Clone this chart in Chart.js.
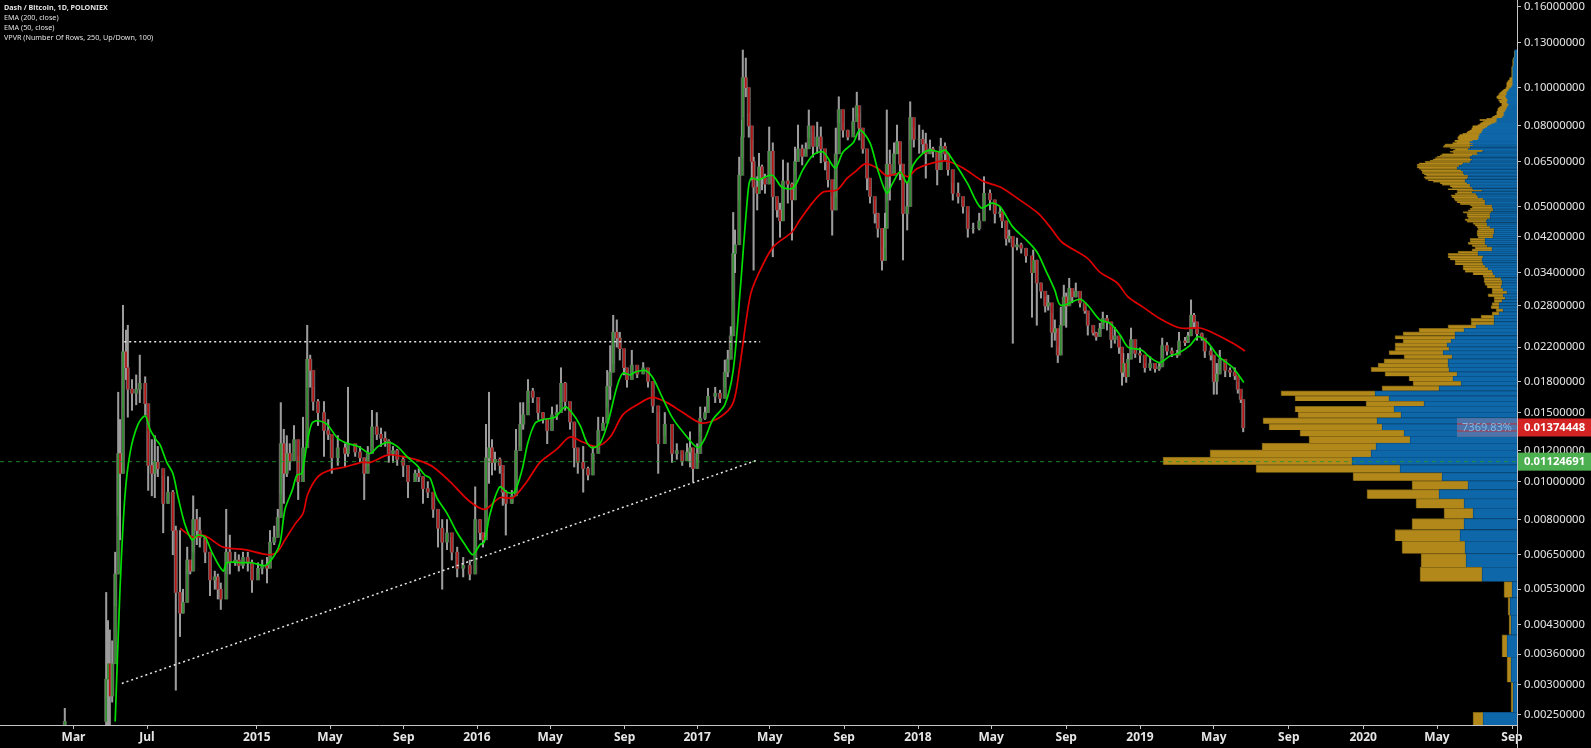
<!DOCTYPE html>
<html><head><meta charset="utf-8">
<style>html,body{margin:0;padding:0;background:#000}canvas{display:block}</style>
<script src="https://cdn.jsdelivr.net/npm/chart.js@4/dist/chart.umd.js"></script>
</head><body><canvas id="c" width="1591" height="748"></canvas>
<script>
const bars=[108,177,180,183,187,192,197,200,205,210,213,220,227,233,242,247,253,258,263,272,280,288,293,300,305,312,317,322,328,333,342,350,358,363,368,377,383,392,398,405,413,420,430,437,445,450,457,463,468,473,478,483,490,497,505,512,517,522,530,540,547,553,563,575,580,592,600,607,613,620,628,635,642,648,655,662,672,680,692,698,705,713,722,730,737,745,753,762,772,783,792,800,805,810,815,820,825,833,838,843,853,860,867,872,880,888,897,905,912,920,928,935,942,950,957,963,972,980,988,997,1005,1012,1017,1022,1028,1033,1040,1045,1053,1062,1072,1080,1088,1097,1108,1120,1128,1137,1145,1150,1155,1162,1167,1175,1180,1192,1200,1208,1213,1218,1222,1225,1232,1237,1238,1243,1248,1253,1256,1262,1265,1270,1275,1282,1288,1295,1300,1305,1313,1320,1325,1330,1337,1343,1348,1355,1362,1368,1375,1380,1387,1393,1398,1405,1413,1422,1428,1432,1438,1445,1450,1458,1463,1470,1475,1478,1483,1490,1495,1500,1505,1512,1517,1523,1532,1538,1543,1550,1555,1562,1568,1575,1580,1588,1597,1605,1613,1622,1632,1640,1650,1658,1667,1670,1677,1682,1688,1695,1702,1710,1720,1722,1728,1735,1742,1747,1753,1758,1763,1768,1773,1777,1782,1787,1793,1800,1808,1813,1822,1827,1833,1838,1845,1852,1858,1865,1870,1872,1877,1880,1885,1892,1900,1908,1917,1925,1932,1937,1945,1953,1962,1965,1975,1980,1985,1990,1995,2003,2008,2018,2023,2028,2033,2042,2050,2058,2063,2068,2072];
const high=[.0026,.0052,.0044,.00416,.0039,.0066,.0169,.0144,.0281,.0243,.0250,.0182,.0187,.0210,.0185,.0134,.0128,.0131,.0123,.0103,.0103,.0095,.0077,.0075,.0053,.0068,.0061,.0092,.0085,.0081,.0072,.0063,.0059,.0058,.0055,.0085,.0073,.0066,.0065,.0066,.0066,.0063,.0062,.0063,.0064,.0075,.0077,.0085,.0159,.0136,.0131,.0125,.0139,.0116,.0146,.0250,.0210,.0174,.0162,.0160,.0144,.0128,.0131,.0125,.0174,.0123,.0123,.0115,.0123,.0152,.0150,.0137,.0134,.0128,.0123,.0121,.0116,.0107,.0107,.0108,.0103,.0100,.0091,.0085,.0080,.0080,.0072,.0068,.0064,.0063,.0097,.0080,.0073,.0140,.0169,.0128,.0119,.0115,.0105,.0095,.0095,.0136,.0159,.0159,.0182,.0173,.0159,.0150,.0144,.0155,.0157,.0195,.0179,.0152,.0141,.0121,.0123,.0109,.0123,.0146,.0146,.0192,.0222,.0265,.0258,.0240,.0216,.0192,.0216,.0192,.0201,.0192,.0165,.0150,.0150,.0128,.0125,.0117,.0125,.0134,.0121,.0125,.0155,.0155,.0173,.0174,.0171,.0204,.0216,.0248,.0483,.0436,.0667,.0828,.1245,.1188,.0860,.0737,.0667,.0595,.0682,.0637,.0604,.0795,.0725,.0519,.0510,.0656,.0645,.0574,.0707,.0804,.0716,.0725,.0878,.0770,.0818,.0795,.0682,.0612,.0530,.0790,.0948,.0814,.0781,.0888,.0974,.0860,.0737,.0645,.0560,.0519,.0481,.0394,.0481,.0878,.0695,.0725,.0804,.0695,.0574,.0574,.0921,.0790,.0804,.0781,.0767,.0737,.0707,.0682,.0745,.0725,.0656,.0574,.0574,.0519,.0485,.0454,.0481,.0595,.0551,.0510,.0499,.0481,.0436,.0436,.0411,.0416,.0404,.0392,.0360,.0388,.0366,.0320,.0295,.0298,.0268,.0258,.0220,.0278,.0316,.0302,.0329,.0304,.0320,.0293,.0278,.0268,.0243,.0240,.0253,.0270,.0265,.0247,.0247,.0229,.0212,.0212,.0195,.0212,.0246,.0220,.0219,.0200,.0208,.0200,.0200,.0232,.0226,.0219,.0216,.0240,.0233,.0240,.0290,.0268,.0246,.0239,.0229,.0220,.0208,.0200,.0216,.0200,.0195,.0195,.0179,.0165,.0159];
const low=[.0023,.0023,.0023,.0023,.0027,.0048,.0082,.0071,.0155,.0182,.0146,.0152,.0157,.0159,.0148,.0095,.0092,.0091,.0103,.0074,.0088,.0065,.0029,.0040,.0046,.0058,.0058,.0066,.0069,.0068,.0062,.0051,.0053,.0050,.0047,.0058,.0058,.0061,.0059,.0060,.0059,.0052,.0058,.0058,.0055,.0064,.0069,.0075,.0093,.0088,.0103,.0107,.0119,.0090,.0101,.0174,.0174,.0152,.0139,.0116,.0128,.0105,.0110,.0109,.0116,.0116,.0112,.0090,.0110,.0123,.0128,.0123,.0123,.0112,.0112,.0110,.0103,.0091,.0101,.0100,.0088,.0091,.0081,.0068,.0053,.0067,.0063,.0057,.0057,.0056,.0067,.0071,.0068,.0091,.0099,.0104,.0107,.0105,.0087,.0073,.0088,.0097,.0123,.0136,.0159,.0159,.0144,.0141,.0125,.0141,.0144,.0159,.0152,.0136,.0109,.0105,.0094,.0101,.0112,.0121,.0136,.0155,.0162,.0200,.0220,.0204,.0187,.0174,.0187,.0184,.0189,.0174,.0150,.0105,.0131,.0112,.0114,.0110,.0114,.0109,.0100,.0112,.0134,.0144,.0155,.0159,.0159,.0174,.0185,.0216,.0290,.0340,.0519,.0667,.0842,.0948,.0749,.0584,.0345,.0490,.0584,.0551,.0540,.0604,.0373,.0470,.0418,.0490,.0510,.0411,.0604,.0656,.0637,.0682,.0749,.0667,.0682,.0645,.0619,.0560,.0423,.0530,.0814,.0749,.0737,.0767,.0842,.0737,.0682,.0551,.0510,.0454,.0418,.0345,.0394,.0519,.0519,.0645,.0682,.0584,.0366,.0436,.0737,.0707,.0682,.0682,.0590,.0682,.0667,.0567,.0667,.0656,.0600,.0519,.0510,.0481,.0418,.0428,.0436,.0499,.0490,.0454,.0470,.0442,.0399,.0406,.0225,.0388,.0381,.0361,.0262,.0345,.0250,.0293,.0270,.0273,.0220,.0229,.0201,.0212,.0278,.0247,.0290,.0285,.0295,.0278,.0268,.0236,.0236,.0229,.0239,.0250,.0243,.0219,.0225,.0212,.0176,.0185,.0179,.0195,.0212,.0207,.0201,.0190,.0192,.0190,.0192,.0207,.0210,.0208,.0207,.0212,.0222,.0226,.0247,.0246,.0229,.0229,.0207,.0204,.0167,.0167,.0192,.0185,.0185,.0182,.0168,.0159,.0134];
const close=[.0024,.0031,.0034,.0028,.0034,.0058,.0118,.0105,.0214,.0195,.0172,.0168,.0172,.0178,.0158,.0110,.0105,.0112,.0108,.0088,.0094,.0075,.0052,.0046,.0049,.0063,.0059,.0080,.0075,.0072,.0066,.0056,.0057,.0053,.0050,.0066,.0062,.0063,.0061,.0064,.0062,.0056,.0060,.0061,.0060,.0070,.0072,.0081,.0125,.0105,.0118,.0113,.0128,.0100,.0122,.0205,.0192,.0160,.0150,.0135,.0132,.0115,.0122,.0118,.0125,.0119,.0115,.0105,.0118,.0138,.0132,.0129,.0127,.0118,.0120,.0114,.0110,.0100,.0105,.0103,.0096,.0094,.0085,.0076,.0070,.0074,.0066,.0060,.0061,.0058,.0080,.0074,.0071,.0115,.0122,.0112,.0114,.0110,.0094,.0088,.0092,.0120,.0140,.0148,.0170,.0164,.0150,.0145,.0135,.0148,.0150,.0178,.0160,.0142,.0122,.0112,.0108,.0104,.0118,.0135,.0141,.0175,.0190,.0240,.0232,.0218,.0195,.0182,.0198,.0188,.0195,.0180,.0156,.0125,.0140,.0118,.0120,.0113,.0119,.0122,.0108,.0118,.0145,.0150,.0165,.0168,.0163,.0190,.0205,.0235,.0380,.0400,.0600,.0750,.1060,.1000,.0800,.0650,.0560,.0540,.0630,.0590,.0570,.0690,.0530,.0490,.0460,.0580,.0570,.0520,.0650,.0700,.0670,.0700,.0800,.0710,.0750,.0700,.0650,.0585,.0490,.0680,.0880,.0780,.0750,.0820,.0900,.0790,.0700,.0590,.0530,.0480,.0440,.0365,.0440,.0640,.0600,.0680,.0730,.0640,.0480,.0500,.0840,.0740,.0740,.0720,.0680,.0700,.0690,.0620,.0710,.0680,.0620,.0540,.0530,.0500,.0440,.0440,.0460,.0540,.0520,.0480,.0485,.0460,.0415,.0420,.0395,.0400,.0392,.0375,.0340,.0365,.0320,.0305,.0280,.0285,.0240,.0245,.0210,.0250,.0295,.0280,.0310,.0295,.0305,.0285,.0272,.0250,.0239,.0234,.0245,.0260,.0255,.0230,.0235,.0220,.0190,.0200,.0185,.0205,.0230,.0212,.0210,.0195,.0200,.0194,.0196,.0222,.0215,.0212,.0210,.0228,.0226,.0235,.0265,.0255,.0238,.0232,.0215,.0210,.0180,.0188,.0205,.0192,.0190,.0186,.0172,.0162,.01374];

const ema50Bars=[192,200,208,217,230,242,250,260,267,278,288,297,308,320,330,342,353,372,378,403,420,442,458,467,475,487,495,503,512,520,530,545,563,580,597,617,630,647,662,678,695,708,717,728,745,762,775,788,800,807,817,833,845,857,870,880,892,905,925,942,953,967,978,988,1000,1013,1028,1038,1050,1058,1075,1088,1103,1120,1138,1163,1175,1188,1208,1222,1233,1247,1252,1263,1287,1303,1322,1338,1355,1372,1392,1405,1422,1433,1450,1463,1478,1488,1500,1512,1522,1538,1550,1567,1575,1588,1612,1635,1653,1667,1688,1708,1728,1745,1758,1768,1800,1813,1833,1850,1867,1880,1903,1917,1933,1950,1963,1983,1997,2013,2030,2055,2073];
const ema50=[.0024,.0053,.0091,.0119,.0140,.0147,.0136,.0128,.0124,.0112,.0105,.0091,.0078,.0071,.0073,.0072,.0066,.0059,.0062,.0062,.0062,.0061,.0065,.0070,.0085,.0095,.0104,.0105,.0126,.0141,.0143,.0140,.0129,.0125,.0123,.0118,.0123,.0126,.0123,.0116,.0110,.0104,.0102,.0091,.0083,.0074,.0069,.0065,.0069,.0070,.0083,.0097,.0094,.0094,.0107,.0126,.0141,.0144,.0146,.0155,.0150,.0139,.0126,.0122,.0125,.0141,.0174,.0189,.0187,.0190,.0192,.0184,.0165,.0146,.0134,.0122,.0129,.0144,.0157,.0192,.0298,.0551,.0590,.0584,.0600,.0560,.0557,.0619,.0675,.0687,.0626,.0687,.0725,.0781,.0725,.0619,.0541,.0574,.0612,.0574,.0637,.0682,.0695,.0687,.0695,.0656,.0574,.0496,.0510,.0499,.0444,.0415,.0384,.0339,.0307,.0281,.0291,.0281,.0258,.0253,.0236,.0220,.0216,.0207,.0201,.0209,.0212,.0222,.0234,.0226,.0209,.0195,.0179];
const ema200Bars=[300,322,337,347,372,408,447,462,475,492,505,513,530,550,575,603,617,647,670,700,722,750,783,808,833,855,878,900,928,950,972,995,1017,1038,1062,1087,1112,1138,1170,1200,1222,1233,1250,1262,1288,1320,1333,1355,1372,1395,1412,1425,1442,1462,1478,1500,1513,1528,1555,1578,1605,1638,1667,1700,1730,1750,1770,1812,1833,1862,1880,1905,1933,1967,2000,2022,2055,2075];
const ema200=[.0076,.0072,.0073,.0072,.0068,.0067,.0065,.0066,.0071,.0078,.0083,.0093,.0103,.0107,.0109,.0112,.0112,.0117,.0116,.0113,.0109,.0100,.0089,.0085,.0091,.0091,.0100,.0112,.0121,.0130,.0126,.0123,.0130,.0148,.0157,.0164,.0159,.0150,.0141,.0146,.0159,.0197,.0295,.0332,.0394,.0431,.0462,.0513,.0544,.0551,.0590,.0612,.0641,.0626,.0598,.0608,.0595,.0623,.0645,.0652,.0626,.0580,.0560,.0519,.0481,.0444,.0406,.0370,.0341,.0320,.0295,.0278,.0260,.0246,.0246,.0239,.0225,.0215];

const vpFloorCentre=.0023, vpStep=.0005;
const vpBlue=[34,4,6,10,6,7,5,35,51,52,57,53,44,53,78,49,75,117,165,146,141,107,113,135,140,116,123,93,128,142,78,56,64,60,68,69,69,65,74,68,70,66,62,62,53,41,23,23,23,18,14,18,18,15,12,14,10,14,16,15,15,16,22,24,25,29,32,34,35,35,34,39,39,25,25,30,32,32,32,24,24,23,23,23,27,30,30,31,30,27,27,27,26,24,24,25,25,32,32,32,34,39,40,41,45,35,44,45,47,47,50,52,52,50,49,49,53,54,54,56,60,60,58,55,54,47,46,45,47,47,45,39,40,35,34,49,47,47,44,47,44,47,44,39,38,38,38,37,37,35,35,34,34,32,30,29,27,25,22,20,20,20,20,15,14,13,13,12,13,12,11,11,10,10,9,9,8,8,9,10,9,9,9,10,10,11,11,10,10,10,10,9,8,8,7,6,5,5,4,4,4,4,4,4,4,4,4,4,4,4,4,4,4,4,4,4,4,4,4,4,4,4,3,3,3,3,3,3,3,3,3,3,3,3,2,2,2,2,2,2,2,2,2,2,2];
const vpGold=[10,2,4,5,2,2,8,62,45,63,65,52,29,48,72,56,89,144,189,161,114,101,104,113,114,103,99,58,94,94,57,48,44,72,78,70,64,48,54,54,52,48,60,52,45,28,23,23,13,7,7,8,7,8,11,15,15,11,14,17,18,17,12,20,27,25,22,28,27,32,35,30,20,20,17,15,17,15,15,15,16,17,17,16,13,12,14,19,22,22,23,23,28,25,23,20,22,25,28,30,29,26,26,21,15,25,25,20,20,28,27,32,37,42,44,42,40,41,41,40,38,40,42,45,44,45,41,39,35,33,32,36,24,32,30,13,20,27,29,25,20,13,18,19,21,21,20,20,17,15,14,13,11,13,14,15,12,12,14,14,12,17,10,10,10,9,7,8,7,8,8,8,9,8,8,6,7,7,6,7,8,9,6,9,10,9,8,7,8,7,6,6,6,5,4,5,5,5,6,6,6,6,5,5,4,3,3,3,1,1,1,1,1,1,1,1,1,1,1,1,1,1,1,1,1,1,1,1,1,1,1,1,.5,.5,.5,.5,.5,.5,.5,.5,.5,.5,.5];
const vpRowPrices=vpBlue.map((_,i)=>vpFloorCentre+i*vpStep);

const xTickBars=[122.5,245,428,550,673,795,917,1041,1162,1283,1407,1530,1652,1777,1900,2023,2148,2272,2395,2520];
const xTickLabels=['Mar','Jul','2015','May','Sep','2016','May','Sep','2017','May','Sep','2018','May','Sep','2019','May','Sep','2020','May','Sep'];
const yTicks=[.16,.13,.10,.08,.065,.05,.042,.034,.028,.022,.018,.015,.012,.01,.008,.0065,.0053,.0043,.0036,.003,.0025];
const lastPrice=.01374448, pocPrice=.01124691, pctText='7369.83%';
const resistance=[[207,.0227],[1267,.0227]];
const support=[[203,.00302],[1263,.01136]];
const pocLine=[[0,pocPrice],[2528,pocPrice]];
const legendLines=['Dash / Bitcoin, 1D, POLONIEX','EMA (200, close)','EMA (50, close)','VPVR (Number Of Rows, 250, Up/Down, 100)'];

const LOG_OFFSET=.0001;
class PriceLog extends Chart.LogarithmicScale{
  static id='pricelog';
  static defaults=Chart.LogarithmicScale.defaults;
  getPixelForValue(v){return typeof v==='number'?super.getPixelForValue(v+LOG_OFFSET):super.getPixelForValue(v);}
}
Chart.register(PriceLog);

const pts=(xs,ys)=>xs.map((x,i)=>({x,y:ys[i]}));
const GOLD='#B2881A',BLUE='#0E67A8';
const rowBorder=c=>c.dataIndex<140?{top:1,left:1,right:0,bottom:0}:0;
const noPad=s=>{s.paddingTop=0;s.paddingBottom=0;s.paddingLeft=0;s.paddingRight=0;};

const overlay={id:'overlay',
  afterDatasetsDraw(ch){
    const c=ch.ctx,y=ch.scales.y,right=ch.chartArea.right;
    c.save();
    const yL=y.getPixelForValue(lastPrice);
    c.fillStyle='rgba(120,125,170,.62)';c.fillRect(right-60,yL-9.5,60,19);
    c.strokeStyle='rgba(210,40,40,.85)';c.lineWidth=1;
    c.beginPath();c.moveTo(right-60,yL-3.5);c.lineTo(right,yL-3.5);c.moveTo(right-60,yL+3.5);c.lineTo(right,yL+3.5);c.stroke();
    c.fillStyle='#7fb6e6';c.font='11px "Noto Sans"';c.textAlign='center';c.textBaseline='middle';
    c.fillText(pctText,right-30,yL);
    c.restore();
  },
  afterDraw(ch){
    const c=ch.ctx,y=ch.scales.y,right=ch.chartArea.right;
    c.save();
    c.strokeStyle='#c4c4c4';c.lineWidth=1;c.beginPath();c.moveTo(right+.5,0);c.lineTo(right+.5,748);c.stroke();
    const yL=y.getPixelForValue(lastPrice),yP=y.getPixelForValue(pocPrice);
    c.font='bold 11.25px "Noto Sans"';c.textAlign='left';c.textBaseline='middle';
    c.fillStyle='#d32323';c.fillRect(right+1,yL-9,73,18);
    c.fillStyle='#fff';c.fillText(lastPrice.toFixed(8),right+7,yL+.5);
    c.fillStyle='#4caf50';c.fillRect(right+1,yP-9,73,18);
    c.fillStyle='#fff';c.fillText(pocPrice.toFixed(8),right+7,yP+.5);
    c.fillStyle='#e0e0e0';c.textBaseline='middle';
    legendLines.forEach((t,i)=>{c.font=(i===0?'bold ':'')+'7.2px "Noto Sans"';c.fillText(t,4,8+i*10);});
    c.restore();
  }
};

new Chart(document.getElementById('c'),{
  type:'line',
  plugins:[overlay],
  data:{datasets:[
    {type:'bar',label:'VP up',indexAxis:'y',stack:'vp',xAxisID:'x2',yAxisID:'y',order:19,
     data:pts(vpBlue,vpRowPrices),backgroundColor:BLUE,borderColor:'#0a4f85',borderWidth:rowBorder,borderSkipped:false,
     barThickness:'flex',categoryPercentage:1,barPercentage:1},
    {type:'bar',label:'VP down',indexAxis:'y',stack:'vp',xAxisID:'x2',yAxisID:'y',order:20,
     data:pts(vpGold,vpRowPrices),backgroundColor:GOLD,borderColor:'#7d6212',borderWidth:rowBorder,borderSkipped:false,
     barThickness:'flex',categoryPercentage:1,barPercentage:1},
    {type:'line',indexAxis:'x',label:'POC',xAxisID:'x',yAxisID:'y',data:pocLine.map(p=>({x:p[0],y:p[1]})),borderColor:'rgba(40,150,40,.85)',borderWidth:1,borderDash:[4,4],pointRadius:0,order:5},
    {type:'bar',indexAxis:'x',label:'core',xAxisID:'x',yAxisID:'y',grouped:false,data:bars.map((x,i)=>({x,y:[i?close[i-1]:low[i],close[i]]})),backgroundColor:'rgba(185,165,165,.55)',barThickness:3.4,maxBarThickness:3.4,order:10},
    {type:'bar',indexAxis:'x',label:'range',xAxisID:'x',yAxisID:'y',data:bars.map((x,i)=>({x,y:[low[i],high[i]]})),backgroundColor:'#9c9c9c',grouped:false,barThickness:1.4,maxBarThickness:1.4,minBarLength:1,order:9},
    {type:'bar',indexAxis:'x',label:'body',xAxisID:'x',yAxisID:'y',data:bars.map((x,i)=>({x,y:[i?close[i-1]:low[i],close[i]]})),
     backgroundColor:close.map((v,i)=>i&&v<close[i-1]?'#b51414':'#2f8f2f'),grouped:false,barThickness:1.1,maxBarThickness:1.1,order:8},
    {type:'line',indexAxis:'x',label:'EMA 200',xAxisID:'x',yAxisID:'y',data:pts(ema200Bars,ema200),borderColor:'#e00000',borderWidth:1.7,pointRadius:0,tension:.3,order:3},
    {type:'line',indexAxis:'x',label:'EMA 50',xAxisID:'x',yAxisID:'y',data:pts(ema50Bars,ema50),borderColor:'#00e000',borderWidth:1.7,pointRadius:0,tension:.3,order:2},
    {type:'line',indexAxis:'x',label:'resistance',xAxisID:'x',yAxisID:'y',data:resistance.map(p=>({x:p[0],y:p[1]})),borderColor:'#e8e8e8',borderWidth:1.5,borderDash:[2,3],pointRadius:0,order:1},
    {type:'line',indexAxis:'x',label:'support',xAxisID:'x',yAxisID:'y',data:support.map(p=>({x:p[0],y:p[1]})),borderColor:'#e8e8e8',borderWidth:1.5,borderDash:[2,3],pointRadius:0,order:1}
  ]},
  options:{
    indexAxis:'y',
    responsive:false,animation:false,devicePixelRatio:1,
    layout:{padding:0},
    plugins:{legend:{display:false},tooltip:{enabled:false},title:{display:false}},
    scales:{
      x:{type:'linear',axis:'x',position:'bottom',min:0,max:2528.33,offset:false,
        afterFit:s=>{s.height=23;noPad(s)},
        afterBuildTicks:s=>{s.ticks=xTickBars.map(value=>({value}))},
        grid:{drawOnChartArea:false,drawTicks:true,tickLength:4,color:'#c4c4c4',offset:false},
        border:{color:'#c4c4c4',display:true},
        ticks:{autoSkip:false,maxRotation:0,padding:1,color:'#e6e6e6',font:{family:'"Noto Sans"',size:12,weight:'bold'},
          callback:(v,i)=>xTickLabels[i]}},
      y:{type:'pricelog',axis:'y',position:'right',min:.00245,max:.1667,offset:false,
        afterFit:s=>{s.width=74;noPad(s)},
        afterBuildTicks:s=>{s.ticks=yTicks.map(value=>({value}))},
        grid:{drawOnChartArea:false,drawTicks:true,tickLength:4,color:'#c4c4c4',offset:false},
        border:{color:'#c4c4c4',display:true},
        ticks:{autoSkip:false,padding:3,color:'#e6e6e6',font:{family:'"Noto Sans"',size:11.25},callback:v=>v.toFixed(8)}},
      x2:{type:'linear',axis:'x',display:false,reverse:true,min:0,max:1517,stacked:true,offset:false,grid:{offset:false}}
    }
  }
});
</script></body></html>
